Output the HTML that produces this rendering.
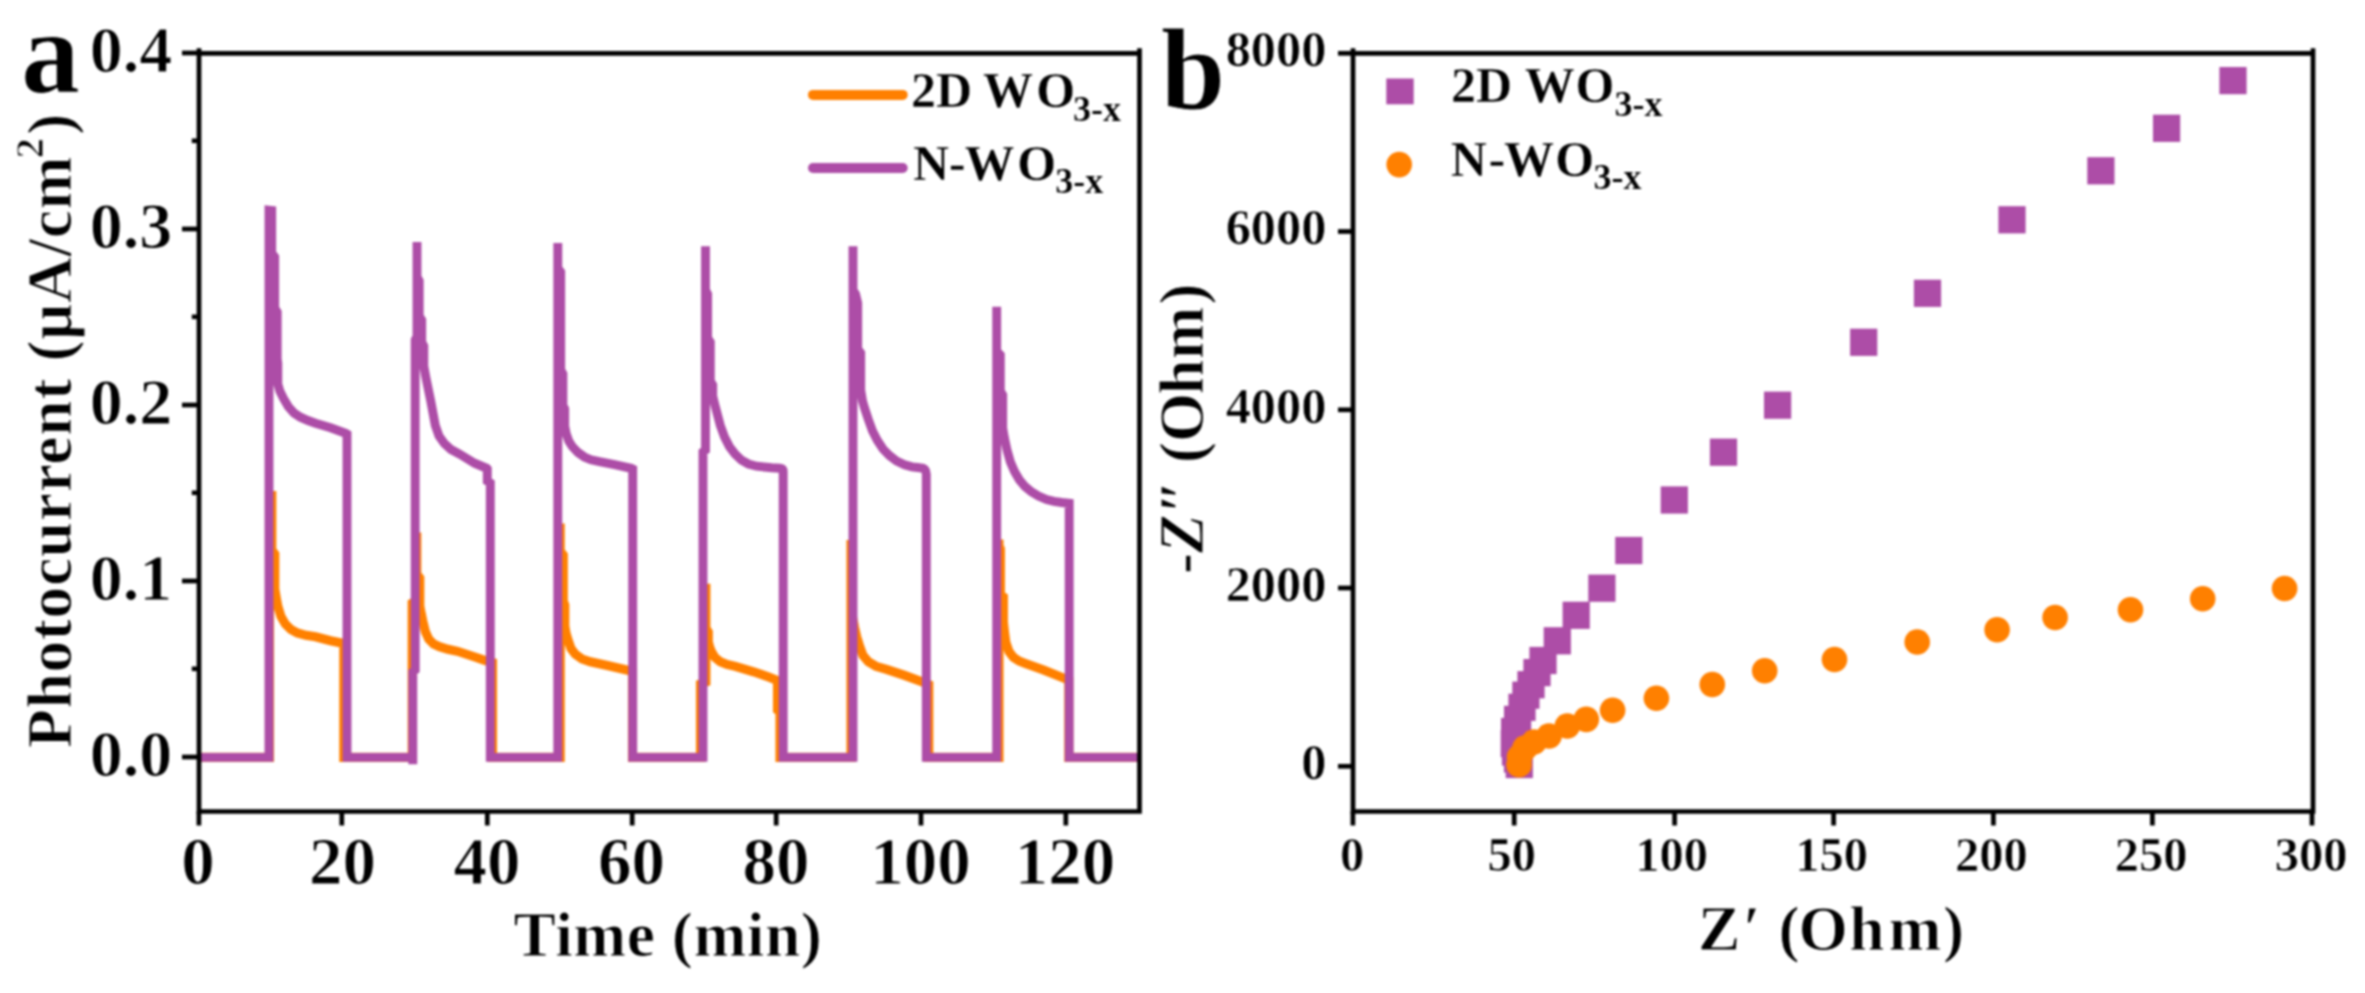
<!DOCTYPE html>
<html lang="en"><head><meta charset="utf-8"><title>Photocurrent and EIS Nyquist plots</title>
<style>html,body{margin:0;padding:0;background:#fff;overflow:hidden}svg{display:block;filter:blur(0.85px)}text{font-family:"Liberation Serif","DejaVu Serif",serif;font-weight:bold;fill:#000;stroke:#fff;stroke-width:1px;stroke-linejoin:round}.s7 text{stroke-width:.7px}text.s4{stroke-width:.4px}text .s2{stroke-width:.2px}</style></head><body>
<svg width="2365" height="993" viewBox="0 0 2365 993">
<rect width="2365" height="993" fill="#fff"/>
<g id="panel-a">
<clipPath id="clipa"><rect x="199.0" y="53.3" width="940.5" height="758.2"/></clipPath>
<g clip-path="url(#clipa)" fill="none" stroke-linejoin="miter" stroke-miterlimit="3" stroke-linecap="butt">
<path d="M199,757.4 H269.5 V495.5 L271.8,495.5 V550 L274.8,554 V589 L276.3,598 L277.8,606 L281,616.5 L285.3,624 L291,629.5 L297.4,633 L306,635.3 L315.5,636.8 L330.6,640.7 L343.8,643.5 V757.4 H412.2 V603 L416.8,600 V532.5 V574 L419.8,578 V606 L421.3,614 L422.8,621 L425.5,632 L428.8,639.2 L433.5,644 L439.4,646.7 L448,649.3 L457.5,651.3 L475.6,657.3 L484.7,660.3 L492.5,662.5 V757.4 H560.2 V523.4 V551 L563.3,555 V601 L564.8,605 V626 L566,633 L567.8,639.2 L571,648.5 L575.3,654.3 L582,659 L590.4,661.8 L608.5,665.8 L626.7,670 L632.5,671.4 V757.4 H700.5 V684 L705.9,682 V583.8 V628 L708.3,632 V642 L709.7,647 L711.3,651.3 L715,657.5 L720.3,661.8 L727,664.5 L735.4,666.4 L753.6,671.8 L768.7,677 L777.5,680.5 V710 L780,712 V757.4 H851 V540 V546 L852.3,549 V616 L854.5,627 L856.8,637 L859.3,645.2 L863,655.5 L868.3,661.8 L876,666.3 L886.5,669.4 L904.6,675.4 L921.2,681.5 L928.8,684.5 V757.4 H999 V539.4 V546 L1000.4,549 V595 L1003.4,597 V622 L1004.5,632 L1005.8,642.2 L1009,651.5 L1013.4,657.3 L1019,661 L1025.4,663.4 L1043.6,670 L1063.2,677.9 L1068.8,680.2 V757.4 H1139.5" stroke="#FF8000" stroke-width="9.1"/>
<path d="M199,757.4 H269 V210.3 L271.7,210.6 V253 L274.7,257 V308 L277.2,312 V359 L277.8,363 V384 L279.8,391 L283.5,398.5 L288.3,406.6 L294,413 L300.4,417.2 L308,420.5 L315.5,423.2 L330.6,427.7 L345.7,433.2 L347,434 V757.4 H412.8 V764.3 V672 L415.2,670 V340 L417,336 V242 V277 L419.2,281 V316 L421.7,320 V342 L423.8,346 V366 L426,378 L430.8,401.3 L435.3,425.4 L439,436 L444.4,443.6 L451,449.5 L459.5,454 L474.6,463.2 L486.7,468.3 L487.3,469 V481 L490.3,483 V757.4 H557.8 V243 V268 L560.7,272 V370 L562.9,374 V405 L564.7,409 V426 L566.3,434 L568.8,441 L572.3,446.6 L578,452.5 L584.4,457 L591,459.8 L599.5,461.7 L614.6,464.7 L631.2,468.3 L632.7,469 V757.4 H703 V452 L705.5,450 V246.3 V290 L707.6,294 V338 L710.3,342 V381 L712.7,385 V396 L714.9,405 L720.3,425.4 L724.5,437 L729.4,446.6 L735,454 L741.5,460.2 L748.5,464 L756.6,466.2 L771.7,467.7 L780,468.3 Q783.2,468.5 783.2,472 V757.4 H853 V246.3 V290 L855.5,294 L857.7,303 V349 L860.7,353 V390 L862.5,401 L864.5,408 L868.3,419.4 L872.5,431 L877.4,440.5 L883,449 L889.5,455.6 L896.5,461 L904.6,464.7 L912,466.8 L919.7,467.7 Q926.3,468 926.3,474 V757.4 H996.7 V306.8 V351 L1000.3,355 V391 L1002.7,395 V428 L1004.3,437.5 L1007,450 L1010.3,461.7 L1014.5,471.5 L1019.4,479.8 L1025,486.5 L1031.5,491.9 L1038.5,496 L1046.6,499.5 L1054,501.3 L1061.7,502.5 L1069.2,503.2 V757.4 H1139.5" stroke="#AD4DA7" stroke-width="8.9"/>
</g>
<path d="M199.0,48.3 V813.85 M1139.5,48.3 V813.85 M196.65,53.3 H1141.85 M196.65,811.5 H1141.85" fill="none" stroke="#000" stroke-width="4.7"/>
<g stroke="#000" stroke-width="4.7">
<line x1="182" y1="757.0" x2="199.0" y2="757.0"/>
<line x1="182" y1="581.0" x2="199.0" y2="581.0"/>
<line x1="182" y1="405.0" x2="199.0" y2="405.0"/>
<line x1="182" y1="229.0" x2="199.0" y2="229.0"/>
<line x1="182" y1="53.0" x2="199.0" y2="53.0"/>
<line x1="191.8" y1="668.8" x2="199.0" y2="668.8" stroke-width="4.6"/>
<line x1="191.8" y1="492.8" x2="199.0" y2="492.8" stroke-width="4.6"/>
<line x1="191.8" y1="316.8" x2="199.0" y2="316.8" stroke-width="4.6"/>
<line x1="191.8" y1="140.8" x2="199.0" y2="140.8" stroke-width="4.6"/>
<line x1="198.9" y1="811.5" x2="198.9" y2="825.5"/>
<line x1="341.8" y1="811.5" x2="341.8" y2="825.5"/>
<line x1="487.3" y1="811.5" x2="487.3" y2="825.5"/>
<line x1="632.2" y1="811.5" x2="632.2" y2="825.5"/>
<line x1="776.2" y1="811.5" x2="776.2" y2="825.5"/>
<line x1="921.0" y1="811.5" x2="921.0" y2="825.5"/>
<line x1="1065.8" y1="811.5" x2="1065.8" y2="825.5"/>
</g>
<g font-size="66" text-anchor="end">
<text x="172.3" y="775.6">0.0</text>
<text x="172.3" y="599.6">0.1</text>
<text x="172.3" y="423.6">0.2</text>
<text x="172.3" y="247.6">0.3</text>
<text x="172.3" y="71.6">0.4</text>
</g>
<g font-size="67" text-anchor="middle">
<text x="198.0" y="883.8">0</text>
<text x="342.5" y="883.8">20</text>
<text x="487.0" y="883.8">40</text>
<text x="631.5" y="883.8">60</text>
<text x="776.0" y="883.8">80</text>
<text x="920.5" y="883.8">100</text>
<text x="1065.0" y="883.8">120</text>
</g>
<text x="667.7" y="956" font-size="63.5" text-anchor="middle" textLength="308.5" lengthAdjust="spacing">Time (min)</text>
<text transform="translate(71,748) rotate(-90)" font-size="63.5" textLength="634.4" lengthAdjust="spacing">Photocurrent (μA/cm<tspan font-size="41" dy="-28" dx="-2.5">2</tspan><tspan dy="28" dx="2.5">)</tspan></text>
<text x="21" y="92.2" font-size="118">a</text>
<line x1="813" y1="94.9" x2="902.7" y2="94.9" stroke="#FF8000" stroke-width="10" stroke-linecap="round"/>
<line x1="813" y1="168" x2="902.7" y2="168" stroke="#AD4DA7" stroke-width="10" stroke-linecap="round"/>
<text font-size="50" class="s4"><tspan x="911.1" y="107.1">2D </tspan><tspan x="983">W</tspan><tspan x="1036.2">O</tspan><tspan font-size="36" class="s2" x="1072.9" y="120.6">3-x</tspan></text>
<text font-size="50" class="s4"><tspan x="913.1" y="179.6">N</tspan><tspan x="949.1">-</tspan><tspan x="964.5">W</tspan><tspan x="1017.2">O</tspan><tspan font-size="36" class="s2" x="1055.2" y="193">3-x</tspan></text>
</g>
<g id="panel-b">
<g fill="#AD4DA7">
<rect x="2219.4" y="67.0" width="27.2" height="27.2"/>
<rect x="2153.0" y="114.7" width="27.2" height="27.2"/>
<rect x="2087.3" y="157.2" width="27.2" height="27.2"/>
<rect x="1998.4" y="206.2" width="27.2" height="27.2"/>
<rect x="1913.9" y="279.7" width="27.2" height="27.2"/>
<rect x="1850.1" y="328.7" width="27.2" height="27.2"/>
<rect x="1764.0" y="391.6" width="27.2" height="27.2"/>
<rect x="1709.9" y="438.6" width="27.2" height="27.2"/>
<rect x="1660.7" y="486.4" width="27.2" height="27.2"/>
<rect x="1615.2" y="536.9" width="27.2" height="27.2"/>
<rect x="1588.3" y="574.6" width="27.2" height="27.2"/>
<rect x="1562.6" y="601.7" width="27.2" height="27.2"/>
<rect x="1543.7" y="627.2" width="27.2" height="27.2"/>
<rect x="1529.4" y="646.9" width="27.2" height="27.2"/>
<rect x="1523.4" y="659.0" width="27.2" height="27.2"/>
<rect x="1517.4" y="671.1" width="27.2" height="27.2"/>
<rect x="1512.3" y="681.6" width="27.2" height="27.2"/>
<rect x="1508.4" y="693.7" width="27.2" height="27.2"/>
<rect x="1504.0" y="705.8" width="27.2" height="27.2"/>
<rect x="1501.0" y="717.9" width="27.2" height="27.2"/>
<rect x="1500.7" y="730.0" width="27.2" height="27.2"/>
<rect x="1501.9" y="738.4" width="27.2" height="27.2"/>
<rect x="1503.9" y="745.4" width="27.2" height="27.2"/>
<rect x="1505.7" y="750.9" width="27.2" height="27.2"/>
</g>
<g fill="#FF8000">
<circle cx="2284.6" cy="588.5" r="12.8"/>
<circle cx="2202.7" cy="598.8" r="12.8"/>
<circle cx="2130.5" cy="609.7" r="12.8"/>
<circle cx="2055.1" cy="617.5" r="12.8"/>
<circle cx="1997.1" cy="629.7" r="12.8"/>
<circle cx="1917.2" cy="642.0" r="12.8"/>
<circle cx="1834.5" cy="659.5" r="12.8"/>
<circle cx="1764.7" cy="670.8" r="12.8"/>
<circle cx="1712.3" cy="684.5" r="12.8"/>
<circle cx="1656.4" cy="698.2" r="12.8"/>
<circle cx="1612.6" cy="710.3" r="12.8"/>
<circle cx="1586.3" cy="719.4" r="12.8"/>
<circle cx="1567.3" cy="726.0" r="12.8"/>
<circle cx="1549.0" cy="736.0" r="12.8"/>
<circle cx="1534.0" cy="742.0" r="12.8"/>
<circle cx="1525.0" cy="748.0" r="12.8"/>
<circle cx="1519.5" cy="757.0" r="12.8"/>
<circle cx="1519.0" cy="764.7" r="12.8"/>
</g>
<path d="M1353.0,48.3 V813.85 M2313.0,48.3 V813.85 M1350.65,53.3 H2315.35 M1350.65,811.5 H2315.35" fill="none" stroke="#000" stroke-width="4.7"/>
<g stroke="#000" stroke-width="4.7">
<line x1="1338" y1="766.3" x2="1353.0" y2="766.3"/>
<line x1="1338" y1="588.0" x2="1353.0" y2="588.0"/>
<line x1="1338" y1="409.8" x2="1353.0" y2="409.8"/>
<line x1="1338" y1="231.5" x2="1353.0" y2="231.5"/>
<line x1="1338" y1="53.3" x2="1353.0" y2="53.3"/>
<line x1="1352.9" y1="811.5" x2="1352.9" y2="825.5"/>
<line x1="1514.2" y1="811.5" x2="1514.2" y2="825.5"/>
<line x1="1674.6" y1="811.5" x2="1674.6" y2="825.5"/>
<line x1="1833.6" y1="811.5" x2="1833.6" y2="825.5"/>
<line x1="1993.4" y1="811.5" x2="1993.4" y2="825.5"/>
<line x1="2152.4" y1="811.5" x2="2152.4" y2="825.5"/>
<line x1="2312.0" y1="811.5" x2="2312.0" y2="825.5"/>
</g>
<g font-size="50.3" text-anchor="end" class="s7">
<text x="1326.3" y="779.0">0</text>
<text x="1326.3" y="600.7">2000</text>
<text x="1326.3" y="422.5">4000</text>
<text x="1326.3" y="244.2">6000</text>
<text x="1326.3" y="66.0">8000</text>
</g>
<g font-size="48.5" text-anchor="middle" class="s7">
<text x="1352.0" y="870.5">0</text>
<text x="1511.8" y="870.5">50</text>
<text x="1671.7" y="870.5">100</text>
<text x="1831.5" y="870.5">150</text>
<text x="1991.4" y="870.5">200</text>
<text x="2151.2" y="870.5">250</text>
<text x="2311.1" y="870.5">300</text>
</g>
<text x="1831.1" y="949.6" font-size="63.5" text-anchor="middle" textLength="266" lengthAdjust="spacing">Z<tspan font-style="italic">′</tspan> (<tspan dx="-2.5">Oh</tspan><tspan dx="2.5">m)</tspan></text>
<text transform="translate(1203.3,574.1) rotate(-90)" font-size="63" textLength="290.5" lengthAdjust="spacing">-<tspan font-style="italic">Z″</tspan> (O<tspan dx="-2">hm</tspan><tspan dx="2">)</tspan></text>
<text x="1160.8" y="109.1" font-size="116">b</text>
<rect x="1386.3" y="78.5" width="27.4" height="25.8" fill="#AD4DA7"/>
<circle cx="1399.2" cy="164.6" r="12.8" fill="#FF8000"/>
<text font-size="50" class="s4"><tspan x="1451" y="101.8">2D </tspan><tspan x="1524.8">W</tspan><tspan x="1575.6">O</tspan><tspan font-size="36" class="s2" x="1614.6" y="115.8">3-x</tspan></text>
<text font-size="50" class="s4"><tspan x="1450.8" y="175.8">N</tspan><tspan x="1488.5">-</tspan><tspan x="1504">W</tspan><tspan x="1555.2">O</tspan><tspan font-size="36" class="s2" x="1593.5" y="189.1">3-x</tspan></text>
</g>
</svg></body></html>
